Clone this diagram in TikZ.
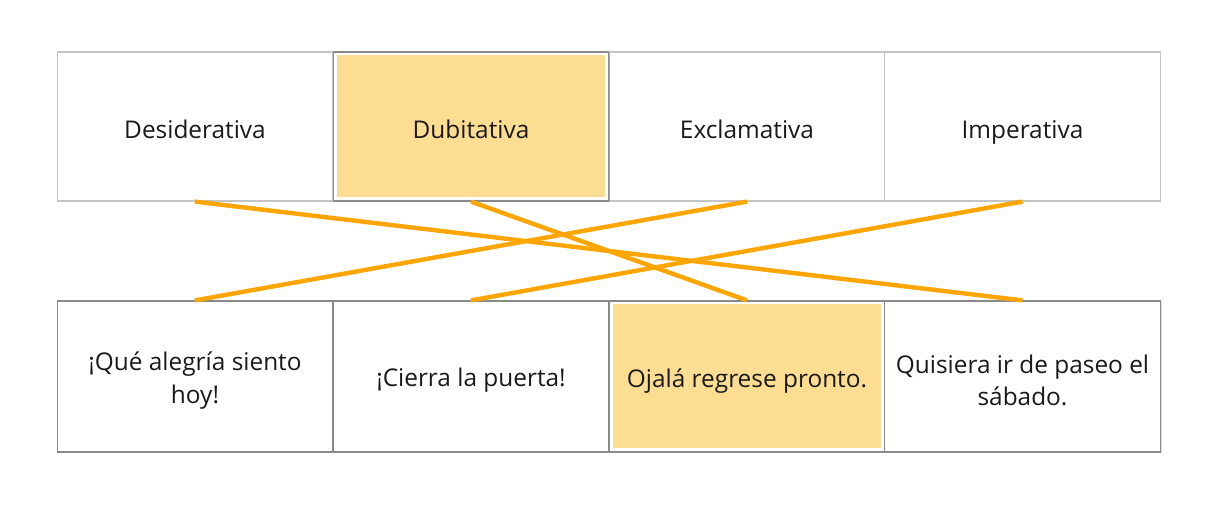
\documentclass[tikz,border=0pt]{standalone}
\usepackage{fontspec}
\setmainfont{Open Sans}
\usetikzlibrary{shadows}
\definecolor{boxline}{HTML}{C4C4C4}
\definecolor{boxdark}{HTML}{8A8A8A}
\definecolor{hilite}{HTML}{FDDD92}
\definecolor{linkc}{HTML}{FFA500}
\definecolor{txt}{HTML}{1A1A1A}
\tikzset{
  cell/.style={draw=boxline, fill=white, line width=0.9pt, minimum width=275.75*0.75pt, minimum height=149*0.75pt,
     inner sep=0pt, anchor=center},
  cellb/.style={cell, draw=boxdark, minimum height=151*0.75pt,
     drop shadow={opacity=0.25, shadow xshift=1pt, shadow yshift=-1pt}},
  sel/.style={draw=boxdark, drop shadow={opacity=0.35, shadow xshift=1pt, shadow yshift=-1pt}},
  fillin/.style={fill=hilite, draw=none, minimum width=268*0.75pt, minimum height=142*0.75pt, inner sep=0pt},
  lbl/.style={font=\fontsize{18.3}{24.5}\selectfont, text=txt, align=center},
  link/.style={draw=linkc, line width=3.3pt},
}
\begin{document}
\begin{tikzpicture}[x=0.75pt, y=-0.75pt]
\useasboundingbox (0,0) rectangle (1215,505);
% top row
\node[cell] (t1) at (195,126.5) {};
\node[cell] (t3) at (747,126.5) {};
\node[cell] (t4) at (1022.5,126.5) {};
\node[cell, sel] (t2) at (471,126.5) {};
\node[fillin] (t2f) at (471,126.5) {};
\node[lbl] (l1) at ([yshift=-2pt]t1) {Desiderativa};
\node[lbl] (l2) at ([yshift=-2pt]t2) {Dubitativa};
\node[lbl] (l3) at ([yshift=-2pt]t3) {Exclamativa};
\node[lbl] (l4) at ([yshift=-4.5pt]t4) {Imperativa};
% bottom row
\node[cellb] (b1) at (195,376.5) {};
\node[cellb] (b2) at (471,376.5) {};
\node[cellb] (b3) at (747,376.5) {};
\node[cellb] (b4) at (1022.5,376.5) {};
\node[fillin, minimum height=144*0.75pt] (b3f) at (747,376.5) {};
\node[lbl] (m1) at ([yshift=-3pt]b1) {¡Qué alegría siento\\hoy!};
\node[lbl] (m2) at ([yshift=-2.5pt]b2) {¡Cierra la puerta!};
\node[lbl] (m3) at ([yshift=-3.5pt]b3) {Ojalá regrese pronto.};
\node[lbl] (m4) at ([yshift=-3pt]b4) {Quisiera ir de paseo el\\sábado.};
% links
\draw[link] (t1.south) -- (b4.north);
\draw[link] (t2.south) -- (b3.north);
\draw[link] (t3.south) -- (b1.north);
\draw[link] (t4.south) -- (b2.north);
\end{tikzpicture}
\end{document}
